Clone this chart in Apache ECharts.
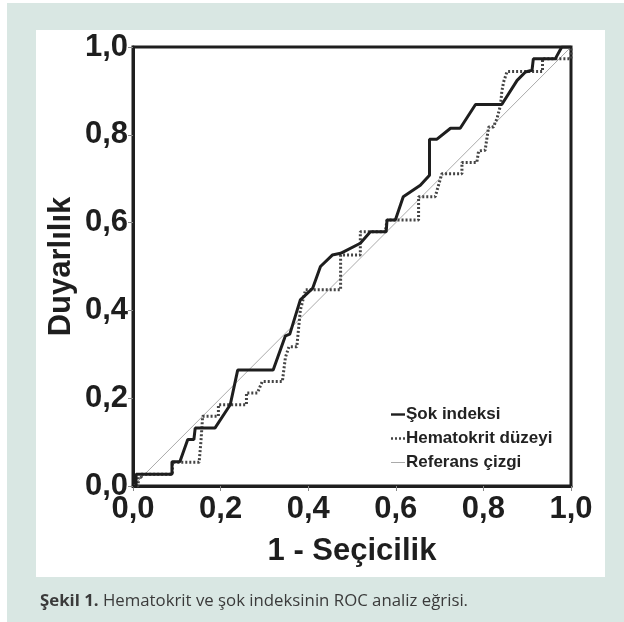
<!DOCTYPE html>
<html>
<head>
<meta charset="utf-8">
<script src="https://cdn.jsdelivr.net/npm/echarts@6/dist/echarts.min.js"></script>
<style>
html, body { margin: 0; padding: 0; background: #ffffff; }
#chart { width: 624px; height: 622px; }
</style>
</head>
<body>
<div id="chart"></div>
<script>
// eksen etiketleri (virgüllü ondalık)
var tickLabels = ['0,0', '0,2', '0,4', '0,6', '0,8', '1,0'];

// Şok indeksi ROC noktaları [1 - seçicilik, duyarlılık]
var sokIndeksi = [
    [0, 0], [0.007, 0], [0.007, 0.027], [0.089, 0.027], [0.089, 0.055], [0.107, 0.055],
    [0.125, 0.106], [0.139, 0.106], [0.142, 0.132], [0.187, 0.132], [0.222, 0.185],
    [0.239, 0.264], [0.320, 0.264], [0.348, 0.342], [0.358, 0.346], [0.382, 0.424],
    [0.410, 0.450], [0.428, 0.500], [0.455, 0.526], [0.474, 0.530], [0.519, 0.553],
    [0.542, 0.579], [0.578, 0.579], [0.580, 0.606], [0.599, 0.606], [0.617, 0.659],
    [0.656, 0.685], [0.677, 0.708], [0.677, 0.790], [0.694, 0.790], [0.725, 0.815],
    [0.747, 0.815], [0.782, 0.869], [0.842, 0.869], [0.877, 0.924], [0.896, 0.943],
    [0.911, 0.947], [0.914, 0.973], [0.964, 0.973], [0.979, 1.0], [1.0, 1.0]
];

// Hematokrit düzeyi ROC noktaları
var hematokrit = [
    [0, 0], [0.012, 0], [0.012, 0.020], [0.019, 0.020], [0.019, 0.027], [0.090, 0.027],
    [0.090, 0.054], [0.151, 0.054], [0.155, 0.100], [0.159, 0.159], [0.195, 0.159],
    [0.195, 0.185], [0.259, 0.185], [0.259, 0.212], [0.284, 0.212], [0.295, 0.238],
    [0.341, 0.238], [0.348, 0.293], [0.356, 0.317], [0.374, 0.317], [0.382, 0.400],
    [0.386, 0.416], [0.394, 0.447], [0.474, 0.447], [0.474, 0.526], [0.519, 0.526],
    [0.519, 0.579], [0.576, 0.579], [0.580, 0.606], [0.652, 0.606], [0.652, 0.659],
    [0.690, 0.659], [0.705, 0.711], [0.751, 0.711], [0.751, 0.737], [0.785, 0.737],
    [0.789, 0.763], [0.804, 0.765], [0.808, 0.792], [0.812, 0.818], [0.823, 0.818],
    [0.831, 0.837], [0.839, 0.867], [0.842, 0.898], [0.846, 0.920], [0.854, 0.944],
    [0.935, 0.944], [0.935, 0.973], [1.0, 0.973], [1.0, 1.0]
];

// referans çizgi
var referans = [[0, 0], [1, 1]];

var seriesNames = ['Şok indeksi', 'Hematokrit düzeyi', 'Referans çizgi'];

var chart = echarts.init(document.getElementById('chart'));

var labelFmt = function (v) {
    return tickLabels[Math.round(v / 0.2)];
};

// lejant simgeleri: kısa çizgi parçaları
var iconSolid = 'path://M0,0h14v2.4h-14z';
var iconDotted = 'path://M0,0h2v2.4h-2zM4,0h2v2.4h-2zM8,0h2v2.4h-2zM12,0h2v2.4h-2z';
var iconThin = 'path://M0,0.7h14v1h-14z';

var option = {
    animation: false,
    textStyle: { fontFamily: 'Liberation Sans, Arial, sans-serif' },
    graphic: [
        { type: 'rect', z: -10, silent: true, shape: { x: 7, y: 3, width: 617, height: 619 }, style: { fill: '#d9e7e3' } },
        { type: 'rect', z: -9, silent: true, shape: { x: 36, y: 30, width: 569, height: 547 }, style: { fill: '#ffffff' } },
        {
            type: 'text', left: 40, top: 593,
            style: {
                text: '{b|Şekil 1.} Hematokrit ve şok indeksinin ROC analiz eğrisi.',
                font: '16.8px "Open Sans", sans-serif',
                fill: '#3a3a3a',
                rich: { b: { fontWeight: 'bold', fontSize: 16.8, fontFamily: 'Open Sans', fill: '#3a3a3a' } }
            }
        }
    ],
    grid: { left: 133, right: 53, top: 47, bottom: 136, show: true, borderColor: '#1e1e1e', borderWidth: 3 },
    legend: {
        orient: 'vertical',
        left: 386, top: 401,
        itemWidth: 14, itemHeight: 3, itemGap: 7,
        data: [
            { name: seriesNames[0], icon: iconSolid, itemStyle: { color: '#1e1e1e' } },
            { name: seriesNames[1], icon: iconDotted, itemStyle: { color: '#444' } },
            { name: seriesNames[2], icon: iconThin, itemStyle: { color: '#aaa' } }
        ],
        textStyle: { fontSize: 17, fontWeight: 'bold', color: '#222', padding: [0, 0, 0, -4] }
    },
    xAxis: {
        type: 'value', min: 0, max: 1, interval: 0.2,
        name: '1 - Seçicilik', nameLocation: 'middle', nameGap: 50,
        nameTextStyle: { fontSize: 31, fontWeight: 'bold', color: '#1e1e1e' },
        axisLine: { show: true, lineStyle: { color: '#1e1e1e', width: 3 } },
        axisTick: { show: true, length: 5, lineStyle: { color: '#888', width: 1 } },
        axisLabel: { formatter: labelFmt, fontSize: 31, fontWeight: 'bold', color: '#1e1e1e', margin: 8 },
        splitLine: { show: false }
    },
    yAxis: {
        type: 'value', min: 0, max: 1, interval: 0.2,
        name: 'Duyarlılık', nameLocation: 'middle', nameGap: 56, nameMoveOverlap: false,
        nameTextStyle: { fontSize: 31, fontWeight: 'bold', color: '#1e1e1e' },
        axisLine: { show: true, lineStyle: { color: '#1e1e1e', width: 3 } },
        axisTick: { show: true, length: 5, lineStyle: { color: '#888', width: 1 } },
        axisLabel: { formatter: labelFmt, fontSize: 31, fontWeight: 'bold', color: '#1e1e1e', margin: 5 },
        splitLine: { show: false }
    },
    series: [
        {
            name: seriesNames[0], type: 'line', data: sokIndeksi, showSymbol: false, symbol: 'none',
            lineStyle: { color: '#1e1e1e', width: 3 }, itemStyle: { color: '#1e1e1e' }, z: 4
        },
        {
            name: seriesNames[1], type: 'line', data: hematokrit, showSymbol: false, symbol: 'none',
            lineStyle: { color: '#444', width: 3, type: [2, 2] }, itemStyle: { color: '#444' }, z: 3
        },
        {
            name: seriesNames[2], type: 'line', data: referans, showSymbol: false, symbol: 'none',
            lineStyle: { color: '#aaa', width: 1 }, itemStyle: { color: '#aaa' }, z: 2
        }
    ]
};

chart.setOption(option);
</script>
</body>
</html>
